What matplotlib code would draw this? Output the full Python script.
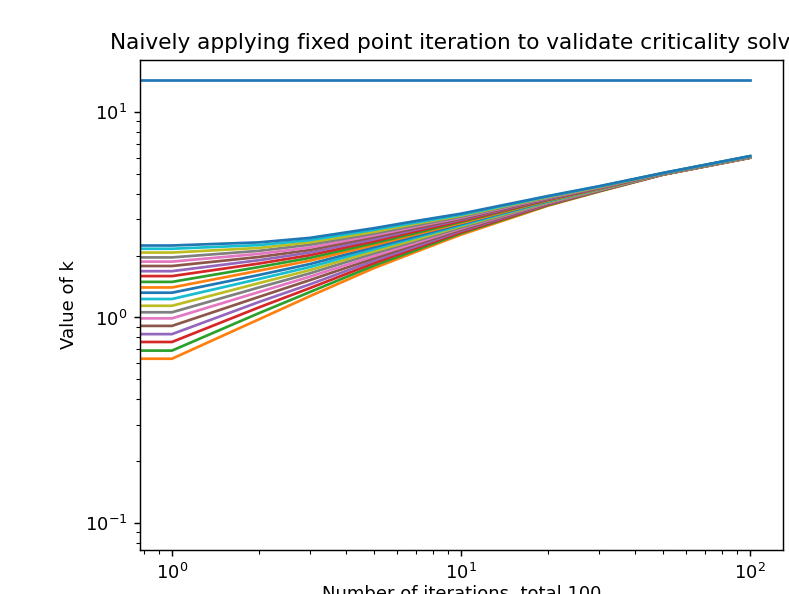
import numpy as np
import matplotlib
matplotlib.use("Agg")
import matplotlib.pyplot as plt

# iteration numbers where k was read off (0 is the starting guess)
iters = [0, 1, 2, 3, 5, 7, 10, 20, 30, 50, 100]

# value of k for each starting guess, one list per iteration
k_it1 = [0.63, 0.69, 0.76, 0.83, 0.91, 0.99, 1.06, 1.14, 1.23, 1.32,
         1.40, 1.49, 1.59, 1.68, 1.78, 1.87, 1.96, 2.07, 2.16, 2.24]
k_it2 = [0.98, 1.05, 1.12, 1.19, 1.26, 1.33, 1.40, 1.47, 1.54, 1.61,
         1.69, 1.76, 1.83, 1.90, 1.97, 2.04, 2.11, 2.18, 2.25, 2.32]
k_it3 = [1.27, 1.33, 1.39, 1.45, 1.52, 1.58, 1.64, 1.70, 1.76, 1.82,
         1.89, 1.95, 2.01, 2.07, 2.13, 2.19, 2.26, 2.32, 2.38, 2.44]
k_it5 = [1.74, 1.79, 1.84, 1.89, 1.94, 1.99, 2.05, 2.10, 2.15, 2.20,
         2.25, 2.30, 2.35, 2.40, 2.46, 2.51, 2.56, 2.61, 2.67, 2.72]
k_it7 = [2.09, 2.13, 2.18, 2.22, 2.27, 2.31, 2.36, 2.40, 2.45, 2.49,
         2.54, 2.58, 2.63, 2.68, 2.72, 2.77, 2.81, 2.86, 2.90, 2.95]
k_it10 = [2.53, 2.57, 2.60, 2.64, 2.67, 2.71, 2.74, 2.78, 2.81, 2.85,
          2.88, 2.92, 2.95, 2.99, 3.02, 3.06, 3.09, 3.13, 3.16, 3.20]
k_it20 = [3.50, 3.52, 3.54, 3.56, 3.58, 3.61, 3.63, 3.65, 3.67, 3.69,
          3.71, 3.73, 3.75, 3.77, 3.79, 3.82, 3.84, 3.86, 3.88, 3.90]
k_it30 = [4.10, 4.11, 4.13, 4.14, 4.15, 4.17, 4.18, 4.19, 4.21, 4.22,
          4.23, 4.25, 4.26, 4.27, 4.28, 4.30, 4.31, 4.32, 4.34, 4.35]
k_it50 = [4.95, 4.96, 4.96, 4.97, 4.97, 4.98, 4.98, 4.99, 4.99, 5.00,
          5.00, 5.01, 5.01, 5.02, 5.02, 5.03, 5.03, 5.04, 5.04, 5.05]
k_it100 = [5.98, 5.99, 5.99, 6.00, 6.00, 6.01, 6.02, 6.02, 6.03, 6.04,
           6.04, 6.05, 6.06, 6.06, 6.07, 6.08, 6.08, 6.09, 6.09, 6.10]

# the reference solve, flat the whole way
k_ref = 14.3

# starting guess is held for iteration 0 and 1
table = np.array([k_it1, k_it1, k_it2, k_it3, k_it5, k_it7, k_it10,
                  k_it20, k_it30, k_it50, k_it100])

fig = plt.figure(figsize=(789 / 130, 594 / 130), dpi=130)
ax = fig.add_axes([140 / 789, 44 / 594, 643 / 789, 490 / 594])

ax.plot(iters, [k_ref] * len(iters))
for j in range(table.shape[1]):
    ax.plot(iters, table[:, j])

ax.set_xscale("log")
ax.set_yscale("log")
ax.set_xlim(0.775, 130)
ax.set_ylim(0.0739, 17.9)

ax.set_title("Naively applying fixed point iteration to validate criticality solver")
ax.set_xlabel("Number of iterations, total 100", labelpad=1.5)
ax.set_ylabel("Value of k")

fig.savefig("out.png", dpi=130)
